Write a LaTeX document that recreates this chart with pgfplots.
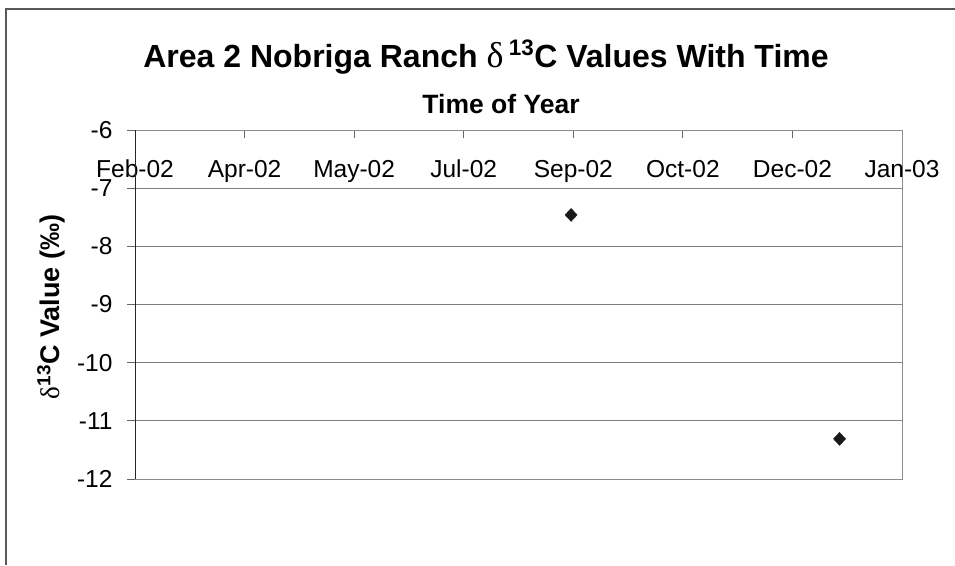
\documentclass[border=0pt]{standalone}
\usepackage{fontspec}
\setmainfont{Liberation Sans}
\newfontfamily\symfont{Liberation Serif}
\usepackage{pgfplots}
\pgfplotsset{compat=1.18}
\begin{document}
\begin{tikzpicture}[x=1pt,y=1pt]
\useasboundingbox (0,0) rectangle (955,-565);
\draw[color=black!65, line width=1.2pt] (6,-565) -- (6,-9) -- (955,-9);
\node[anchor=base, font=\fontsize{32}{36}\selectfont\bfseries] at (486,-67) {Area 2 Nobriga Ranch {\mdseries\symfont\fontsize{36}{40}\selectfont δ}\,\raisebox{2pt}{\textsuperscript{13}}C Values With Time};
\node[anchor=base, font=\fontsize{26.5}{30}\selectfont\bfseries] at (501,-113) {Time of Year};
\node[rotate=90, font=\fontsize{27}{30}\selectfont\bfseries] at (51,-307) {{\mdseries\symfont δ}\textsuperscript{13}C Value (‰)};
\begin{axis}[
  at={(135pt,-479pt)}, anchor=south west,
  scale only axis, width=767pt, height=349pt,
  xmin=0, xmax=7, ymin=-12, ymax=-6,
  xtick={0,...,7}, xticklabels={Feb-02,Apr-02,May-02,Jul-02,Sep-02,Oct-02,Dec-02,Jan-03},
  ytick={-12,...,-6},
  xtick pos=upper, xticklabel pos=upper,
  ytick pos=left,
  xtick align=inside, ytick align=outside,
  major tick length=8pt,
  ymajorgrids, grid style={black!50, line width=0.8pt},
  axis line style={black!45, line width=1pt},
  tick style={black!60, line width=0.8pt},
  ticklabel style={font=\fontsize{24.5}{28}\selectfont},
  /pgf/number format/assume math mode=true,
  xticklabel style={anchor=base, yshift=-47pt},
  yticklabel style={xshift=-11pt},
  clip=false,
]
\addplot[only marks, mark=diamond*, mark size=6.5pt, color=black!90, mark options={xscale=1.25}] coordinates {(3.98,-7.46) (6.43,-11.31)};
\draw[black!85, line width=1pt] (rel axis cs:0,0) -- (rel axis cs:0,1);
\end{axis}
\end{tikzpicture}
\end{document}
